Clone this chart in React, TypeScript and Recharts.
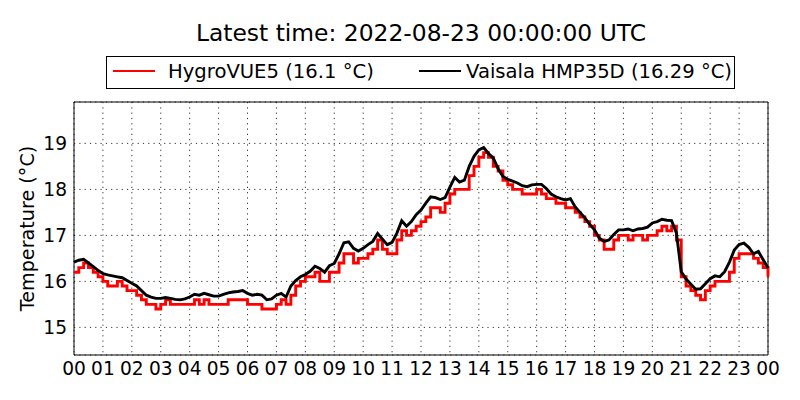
import { LineChart, Line, XAxis, YAxis, CartesianGrid, ReferenceArea, Label } from "recharts"

const FONT = "'DejaVu Sans', sans-serif"

// 10-minute samples, 00:00 to 24:00
const HOURS = Array.from({ length: 145 }, (_, i) => i / 6)

const HYGROVUE5 = [
  16.2, 16.3, 16.4, 16.3, 16.2, 16.1,
  16.0, 15.9, 15.9, 16.0, 15.9, 15.8,
  15.8, 15.7, 15.6, 15.5, 15.5, 15.4,
  15.5, 15.6, 15.5, 15.5, 15.5, 15.5,
  15.5, 15.6, 15.5, 15.6, 15.5, 15.5,
  15.5, 15.5, 15.6, 15.6, 15.6, 15.6,
  15.5, 15.5, 15.5, 15.4, 15.4, 15.4,
  15.5, 15.6, 15.5, 15.7, 15.9, 16.0,
  16.1, 16.1, 16.2, 16.0, 16.0, 16.2,
  16.2, 16.4, 16.6, 16.6, 16.4, 16.5,
  16.5, 16.6, 16.7, 16.9, 16.7, 16.6,
  16.6, 16.9, 17.1, 17.0, 17.1, 17.2,
  17.3, 17.4, 17.6, 17.6, 17.5, 17.7,
  17.9, 18.0, 18.0, 18.0, 18.3, 18.5,
  18.7, 18.8, 18.7, 18.5, 18.4, 18.2,
  18.1, 18.0, 18.0, 17.9, 17.9, 17.9,
  18.0, 17.9, 17.8, 17.8, 17.7, 17.7,
  17.6, 17.6, 17.5, 17.4, 17.3, 17.2,
  17.0, 16.9, 16.7, 16.7, 16.9, 17.0,
  17.0, 16.9, 17.0, 17.0, 16.9, 17.0,
  17.0, 17.1, 17.2, 17.1, 17.2, 16.9,
  16.1, 15.9, 15.8, 15.7, 15.6, 15.8,
  15.9, 16.0, 16.0, 16.0, 16.2, 16.5,
  16.6, 16.6, 16.6, 16.5, 16.4, 16.3,
  16.1,
]

const HMP35D = [
  16.42, 16.46, 16.48, 16.40, 16.32, 16.24,
  16.17, 16.14, 16.12, 16.10, 16.08, 16.02,
  15.96, 15.90, 15.80, 15.70, 15.66, 15.63,
  15.63, 15.65, 15.63, 15.61, 15.60, 15.62,
  15.66, 15.72, 15.70, 15.74, 15.71, 15.68,
  15.68, 15.72, 15.75, 15.77, 15.78, 15.80,
  15.74, 15.70, 15.72, 15.70, 15.60, 15.62,
  15.70, 15.74, 15.66, 15.90, 16.02, 16.10,
  16.15, 16.22, 16.33, 16.28, 16.20, 16.34,
  16.39, 16.60, 16.84, 16.86, 16.72, 16.66,
  16.72, 16.80, 16.87, 17.04, 16.92, 16.80,
  16.85, 17.05, 17.32, 17.20, 17.30, 17.45,
  17.55, 17.70, 17.84, 17.82, 17.78, 17.82,
  18.05, 18.26, 18.16, 18.20, 18.50, 18.72,
  18.86, 18.91, 18.78, 18.68, 18.45, 18.28,
  18.22, 18.18, 18.14, 18.08, 18.06, 18.10,
  18.11, 18.11, 18.02, 17.90, 17.84, 17.80,
  17.77, 17.80, 17.62, 17.50, 17.38, 17.24,
  17.12, 16.94, 16.87, 16.90, 17.02, 17.12,
  17.12, 17.14, 17.10, 17.14, 17.15, 17.18,
  17.27, 17.30, 17.35, 17.33, 17.32, 17.05,
  16.21, 16.05, 15.94, 15.83, 15.84, 15.95,
  16.06, 16.12, 16.10, 16.21, 16.42, 16.68,
  16.80, 16.83, 16.74, 16.60, 16.65, 16.47,
  16.29,
]

const HOUR_TICKS = Array.from({ length: 25 }, (_, i) => i)
const HOUR_LABELS = [
  "00", "01", "02", "03", "04", "05", "06", "07", "08", "09", "10", "11",
  "12", "13", "14", "15", "16", "17", "18", "19", "20", "21", "22", "23", "00",
]
const TEMP_TICKS = [15, 16, 17, 18, 19]
const TEMP_DOMAIN = [14.4, 19.9]

const data = HOURS.map((h, i) => ({ h, hygro: HYGROVUE5[i], hmp: HMP35D[i] }))

function YTitle({ viewBox }: any) {
  const cx = viewBox.x + viewBox.width / 2 - 10
  const cy = viewBox.y + viewBox.height / 2
  return (
    <text
      x={cx}
      y={cy}
      dy="0.36em"
      textAnchor="middle"
      transform={`rotate(-90, ${cx}, ${cy})`}
      fontSize={19.2}
      fontFamily={FONT}
      fill="#000"
    >
      Temperature (°C)
    </text>
  )
}

export default function App() {
  return (
    <div style={{ position: "absolute", left: 0, top: 0, width: 800, height: 400, background: "#fff", fontFamily: FONT }}>
      <div style={{ position: "absolute", left: 74, width: 694, top: 20, fontSize: 23.4, lineHeight: "27px", textAlign: "center", color: "#000" }}>
        Latest time: 2022-08-23 00:00:00 UTC
      </div>

      <div style={{ position: "absolute", left: 106, top: 56, width: 629, height: 33, boxSizing: "border-box", border: "1px solid #000", fontSize: 19.6, lineHeight: "19px", color: "#000" }}>
        <div style={{ position: "absolute", left: 6, top: 12.6, width: 42, height: 2.8, background: "#ff0000" }} />
        <span style={{ position: "absolute", left: 61, top: 5, whiteSpace: "nowrap" }}>HygroVUE5 (16.1 °C)</span>
        <div style={{ position: "absolute", left: 312, top: 12.6, width: 42, height: 2.8, background: "#000" }} />
        <span style={{ position: "absolute", left: 359, top: 5, whiteSpace: "nowrap" }}>Vaisala HMP35D (16.29 °C)</span>
      </div>

      <LineChart width={800} height={400} data={data} margin={{ top: 102, right: 32, bottom: 0, left: 0 }}>
        <CartesianGrid stroke="#000" strokeWidth={0.8} strokeDasharray="1.2 4.1" />
        <XAxis
          dataKey="h"
          type="number"
          domain={[0, 24]}
          ticks={HOUR_TICKS}
          interval={0}
          height={45}
          axisLine={false}
          tickLine={false}
          tickSize={0}
          tickMargin={7}
          tick={{ fontSize: 18.6, fill: "#000", fontFamily: FONT }}
          tickFormatter={(v: number) => HOUR_LABELS[HOUR_TICKS.indexOf(v)]}
        />
        <YAxis
          type="number"
          domain={TEMP_DOMAIN}
          ticks={TEMP_TICKS}
          allowDataOverflow
          width={74}
          axisLine={false}
          tickLine={false}
          tickSize={0}
          tickMargin={7}
          tick={{ fontSize: 18.6, fill: "#000", fontFamily: FONT }}
        >
          <Label content={YTitle} />
        </YAxis>
        <Line type="stepAfter" dataKey="hygro" stroke="#ff0000" strokeWidth={2.9} dot={false} isAnimationActive={false} />
        <Line type="linear" dataKey="hmp" stroke="#000" strokeWidth={2.9} dot={false} isAnimationActive={false} />
        <ReferenceArea x1={0} x2={24} y1={TEMP_DOMAIN[0]} y2={TEMP_DOMAIN[1]} fill="none" stroke="#000" strokeWidth={1} />
      </LineChart>
    </div>
  )
}
